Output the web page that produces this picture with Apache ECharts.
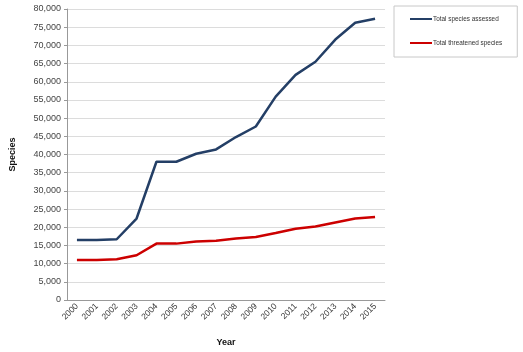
<!DOCTYPE html>
<html>
<head>
<meta charset="utf-8">
<script src="https://cdn.jsdelivr.net/npm/echarts@6/dist/echarts.min.js"></script>
<style>
  html, body { margin: 0; padding: 0; background: #fff; }
  #chart { width: 523px; height: 352px; }
</style>
</head>
<body>
<div id="chart"></div>
<script>
  var years = ['2000','2001','2002','2003','2004','2005','2006','2007','2008','2009','2010','2011','2012','2013','2014','2015'];
  var assessed = [16500, 16500, 16700, 22400, 38000, 38000, 40200, 41400, 44800, 47700, 55900, 61900, 65500, 71600, 76200, 77300];
  var threatened = [11000, 11000, 11200, 12300, 15500, 15500, 16100, 16300, 16900, 17300, 18400, 19600, 20200, 21300, 22400, 22800];

  var chart = echarts.init(document.getElementById('chart'));
  chart.setOption({
    animation: false,
    grid: { left: 65, right: 138, top: 9, bottom: 51 },
    legend: {
      orient: 'vertical',
      left: 394, top: 6,
      padding: [10, 15, 11, 16],
      borderColor: '#c8c8c8', borderWidth: 1,
      itemWidth: 22, itemHeight: 2, itemGap: 18,
      icon: 'rect',
      textStyle: { fontSize: 6.4, color: '#333', padding: [0, 0, 0, -4] },
      data: ['Total species assessed', 'Total threatened species']
    },
    xAxis: {
      type: 'category',
      data: years,
      boundaryGap: true,
      name: 'Year',
      nameLocation: 'middle',
      nameGap: 38,
      nameTextStyle: { fontWeight: 'bold', fontSize: 9, color: '#111' },
      axisLine: { lineStyle: { color: '#999' } },
      axisTick: { alignWithLabel: true, lineStyle: { color: '#999' } },
      axisLabel: { rotate: 45, fontSize: 8.5, color: '#333', margin: 5 }
    },
    yAxis: {
      type: 'value',
      min: 0, max: 80000, interval: 5000,
      name: 'Species',
      nameLocation: 'middle',
      nameGap: 50,
      nameTextStyle: { fontWeight: 'bold', fontSize: 9, color: '#111' },
      axisLine: { show: true, lineStyle: { color: '#999' } },
      axisTick: { show: true, length: 3, lineStyle: { color: '#999' } },
      splitLine: { lineStyle: { color: '#dcdcdc', width: 1 } },
      axisLabel: {
        fontSize: 9, color: '#444', margin: 6,
        formatter: function (v) { return v.toLocaleString('en-US'); }
      }
    },
    series: [
      {
        name: 'Total species assessed',
        type: 'line',
        data: assessed,
        symbol: 'none',
        color: '#243f66',
        lineStyle: { width: 2.5, color: '#243f66' }
      },
      {
        name: 'Total threatened species',
        type: 'line',
        data: threatened,
        symbol: 'none',
        color: '#cc0000',
        lineStyle: { width: 2.5, color: '#cc0000' }
      }
    ]
  });
</script>
</body>
</html>
